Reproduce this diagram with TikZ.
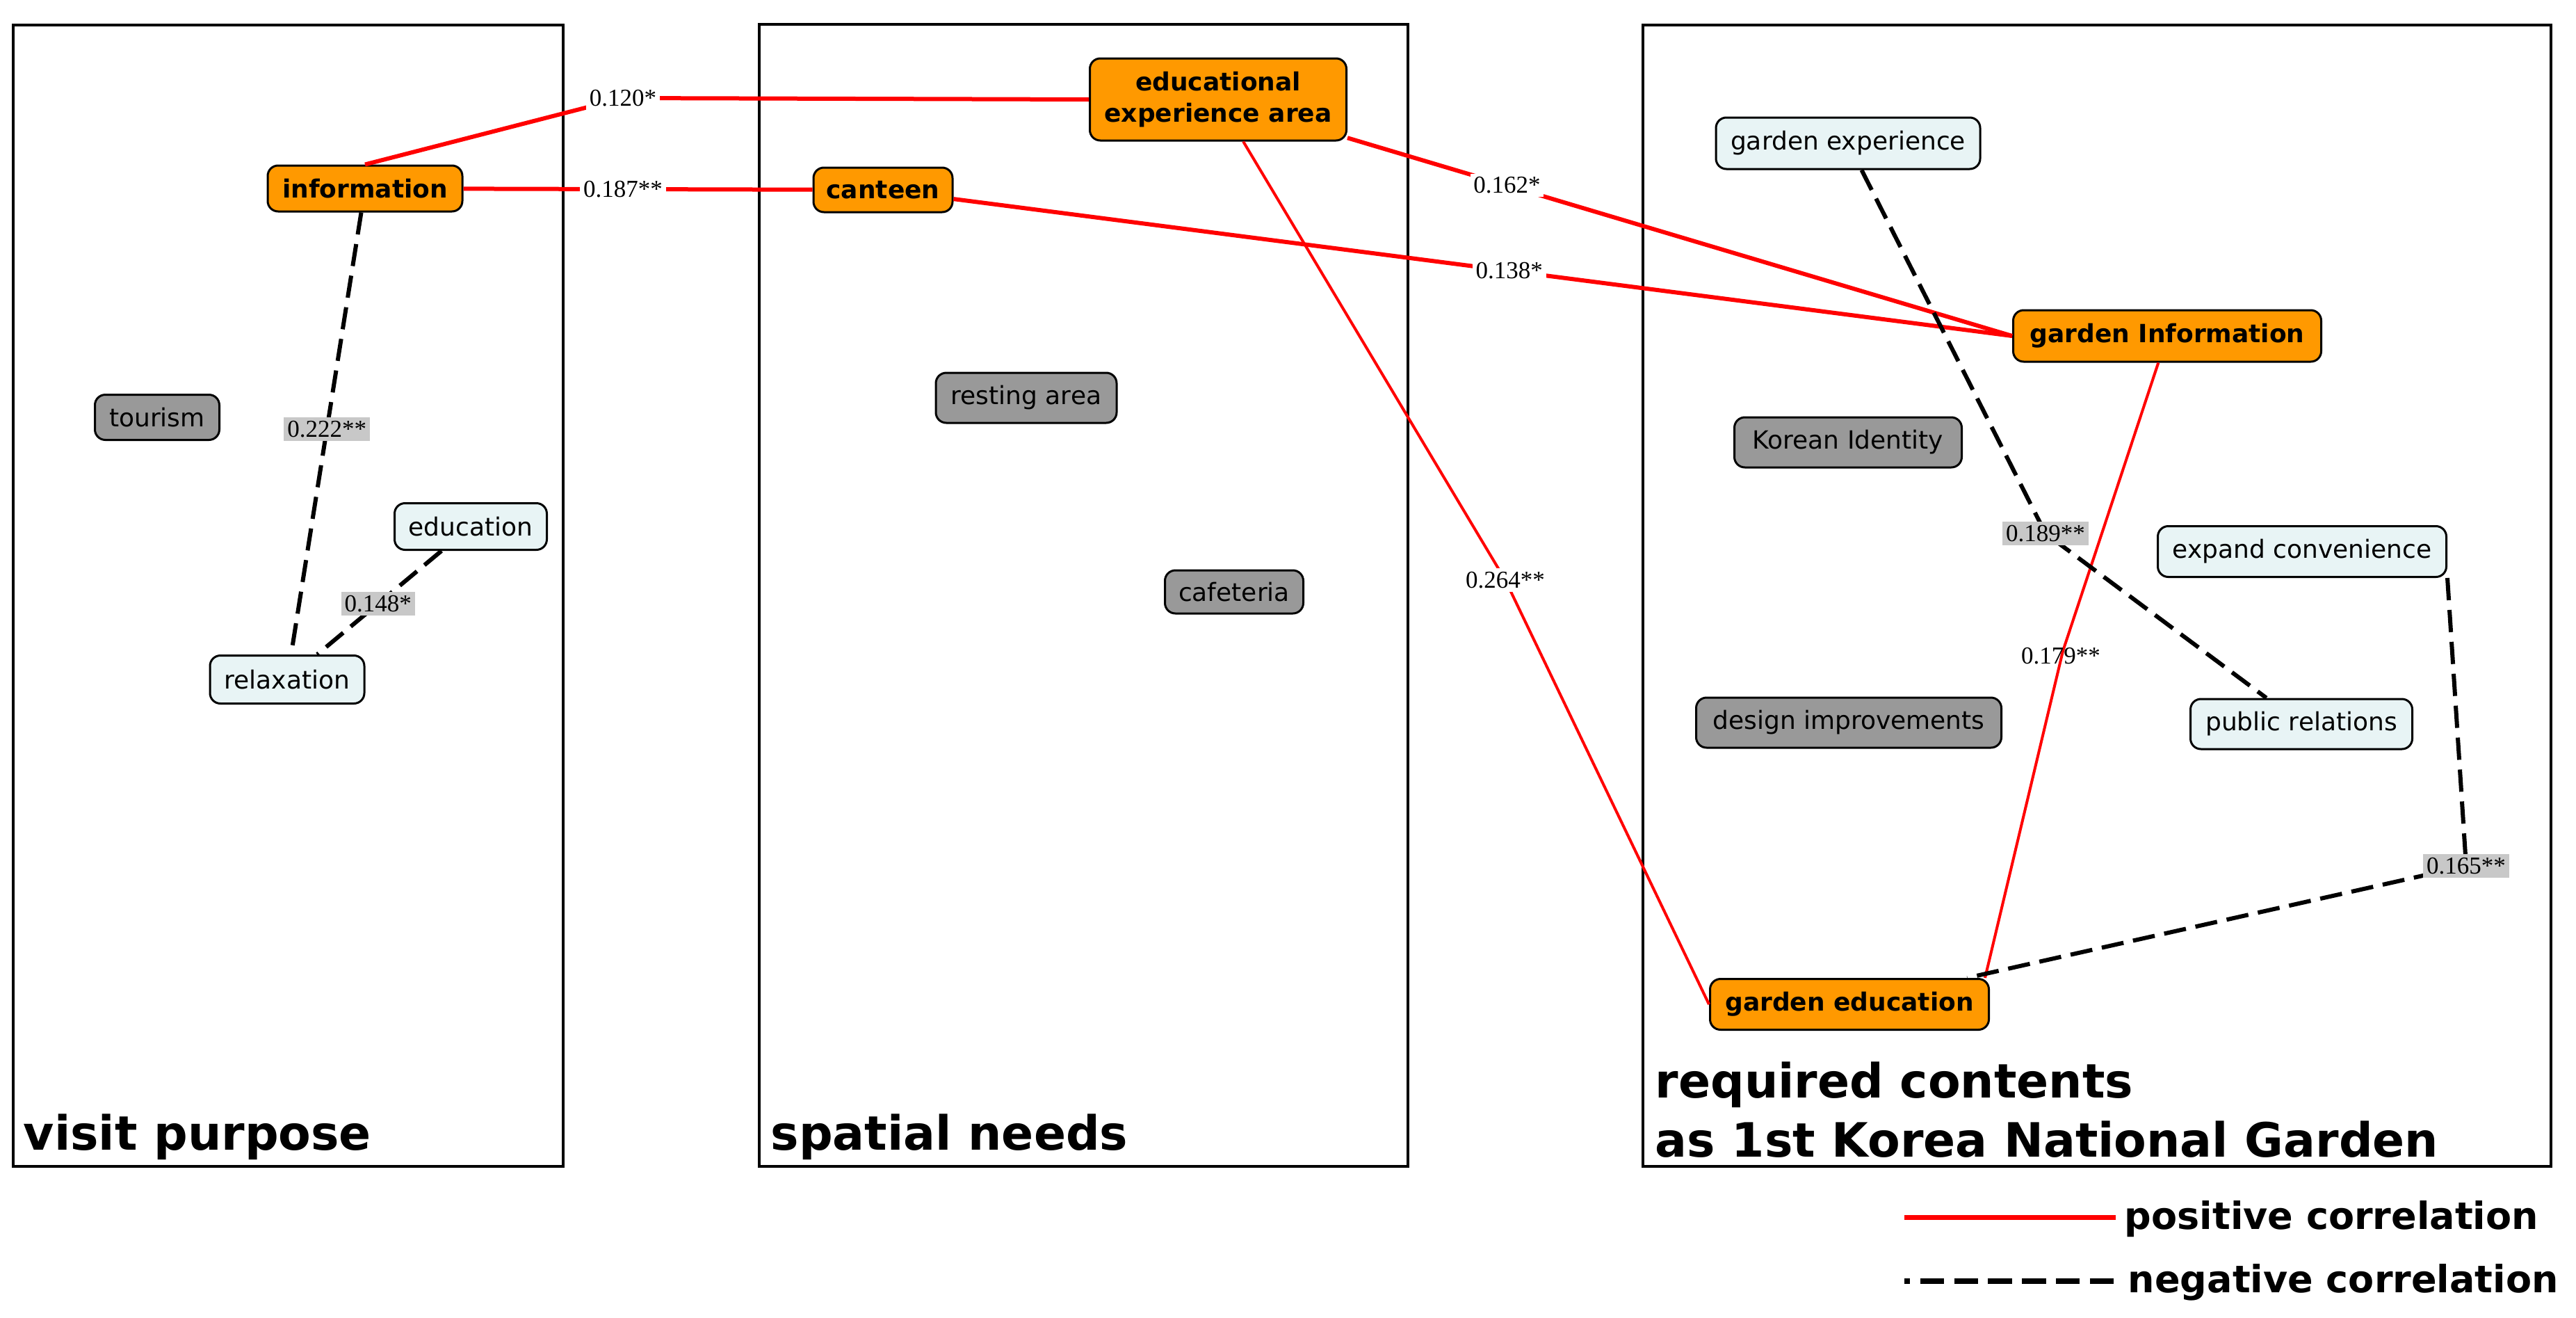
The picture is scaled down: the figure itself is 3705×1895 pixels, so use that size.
\documentclass[tikz,border=0pt]{standalone}
\usepackage{fontspec}
\setmainfont{DejaVu Sans}
\newfontfamily\lblfont{Liberation Serif}
\definecolor{orng}{HTML}{FF9900}
\definecolor{grayfill}{HTML}{999999}
\definecolor{lightfill}{HTML}{E8F4F5}
\definecolor{lblgray}{HTML}{C8C8C8}
\definecolor{posred}{HTML}{FF0000}
\begin{document}
\begin{tikzpicture}[x=0.25pt,y=-0.25pt,
  frame/.style={draw=black, line width=1pt},
  basenode/.style={draw=black, line width=0.75pt, rounded corners=3.75pt, inner sep=0pt,
    align=center, font=\fontsize{9}{11.25}\selectfont},
  hot/.style={basenode, fill=orng, font=\fontsize{9}{11.25}\selectfont\bfseries},
  neutral/.style={basenode, fill=grayfill},
  cool/.style={basenode, fill=lightfill},
  lblbase/.style={font=\lblfont\fontsize{8.75}{10}\selectfont, inner sep=1.2pt},
  plbl/.style={lblbase, fill=white},
  nlbl/.style={lblbase, fill=lblgray},
  clearlbl/.style={lblbase},
  posline/.style={draw=posred, line width=1.5pt},
  thinpos/.style={draw=posred, line width=1pt},
  negline/.style={draw=black, line width=1.5pt, dash pattern=on 8pt off 3.5pt},
  titletext/.style={anchor=base west, inner sep=0pt, font=\fontsize{17}{21}\selectfont\bfseries},
  legtext/.style={anchor=base west, inner sep=0pt, font=\fontsize{13.5}{16}\selectfont\bfseries}
]
\useasboundingbox (0,0) rectangle (3705,1895);
\fill[white] (0,0) rectangle (3705,1895);

% group frames
\draw[frame] (19,36) rectangle (810,1677);
\draw[frame] (1092,35) rectangle (2025,1677);
\draw[frame] (2363,36) rectangle (3669,1677);

% visit purpose
\node[hot, minimum width=70pt, minimum height=16.5pt] (info) at (525,271) {information};
\node[neutral, minimum width=44.75pt, minimum height=16.25pt] (tourism) at (226,600) {tourism};
\node[cool, minimum width=54.75pt, minimum height=16.75pt] (educ) at (677,757) {education};
\node[cool, minimum width=55.5pt, minimum height=17.25pt] (relax) at (413,977) {relaxation};

% spatial needs
\node[hot, minimum width=92.25pt, minimum height=29.5pt] (eduexp) at (1752,143) {educational\\experience area};
\node[hot, minimum width=50pt, minimum height=16pt] (canteen) at (1270,273) {canteen};
\node[neutral, minimum width=65pt, minimum height=18pt] (resting) at (1476,572) {resting area};
\node[neutral, minimum width=49.75pt, minimum height=15.5pt] (cafe) at (1775,851) {cafeteria};

% required contents
\node[cool, minimum width=95pt, minimum height=18.5pt] (gexp) at (2658,206) {garden experience};
\node[hot, minimum width=110.75pt, minimum height=18.5pt] (ginfo) at (3117,483) {garden Information};
\node[neutral, minimum width=81.75pt, minimum height=18pt] (korean) at (2658,636) {Korean Identity};
\node[cool, minimum width=103.75pt, minimum height=18.25pt] (expand) at (3311,793) {expand convenience};
\node[neutral, minimum width=109.75pt, minimum height=18pt] (design) at (2659,1039) {design improvements};
\node[cool, minimum width=79.75pt, minimum height=18pt] (pr) at (3310,1041) {public relations};
\node[hot, minimum width=100.25pt, minimum height=18.25pt] (gedu) at (2660,1444) {garden education};

% bend points
\coordinate (b120) at (896,141);
\coordinate (b264) at (2165,834);
\coordinate (b179) at (2967,936);
\coordinate (b189) at (2942,767);
\coordinate (b165) at (3547,1245);

% positive correlations
\draw[posline] (info.north) -- (b120) -- (eduexp.west);
\node[plbl] (l120) at (b120) {0.120*};
\draw[posline] (info) -- node[plbl, pos=0.457] (l187) {0.187**} (canteen);
\draw[posline] (eduexp) -- node[plbl, pos=0.24] (l162) {0.162*} (ginfo.west);
\draw[posline] (canteen) -- node[plbl, pos=0.525] (l138) {0.138*} (ginfo.west);
\draw[thinpos] (eduexp) -- (b264) -- (gedu.west);
\node[plbl] (l264) at (b264) {0.264**};
\draw[thinpos] (ginfo) -- (b179) -- ([xshift=-1.75pt]gedu.north east);
\node[clearlbl] (l179) at (2964,943) {0.179**};

% negative correlations
\draw[negline] (info) -- node[nlbl, pos=0.49] (l222) {0.222**} (relax);
\draw[negline] (educ) -- node[nlbl, pos=0.51] (l148) {0.148*} (relax);
\draw[negline] (gexp) -- (b189) -- (pr);
\node[nlbl] (l189) at (b189) {0.189**};
\draw[negline] (expand.south east) -- (b165) -- (gedu);
\node[nlbl] (l165) at (b165) {0.165**};

% group titles
\node[titletext] (t1) at (33,1653) {visit purpose};
\node[titletext] (t2) at (1108,1653) {spatial needs};
\node[titletext] (t3a) at (2380,1578) {required contents};
\node[titletext] (t3b) at (2380,1663) {as 1st Korea National Garden};

% legend
\coordinate (lp1) at (2739,1750);
\coordinate (lp2) at (3043,1750);
\draw[draw=posred, line width=1.75pt] (lp1) -- (lp2);
\node[legtext] (lpos) at (3055,1767) {positive correlation};
\coordinate (ln1) at (2739,1842);
\coordinate (ln2) at (3041,1842);
\draw[draw=black, line width=2pt, dash pattern=on 8.6pt off 3.6pt, dash phase=6.5pt] (ln1) -- (ln2);
\node[legtext] (lneg) at (3060,1858) {negative correlation};
\end{tikzpicture}
\end{document}
